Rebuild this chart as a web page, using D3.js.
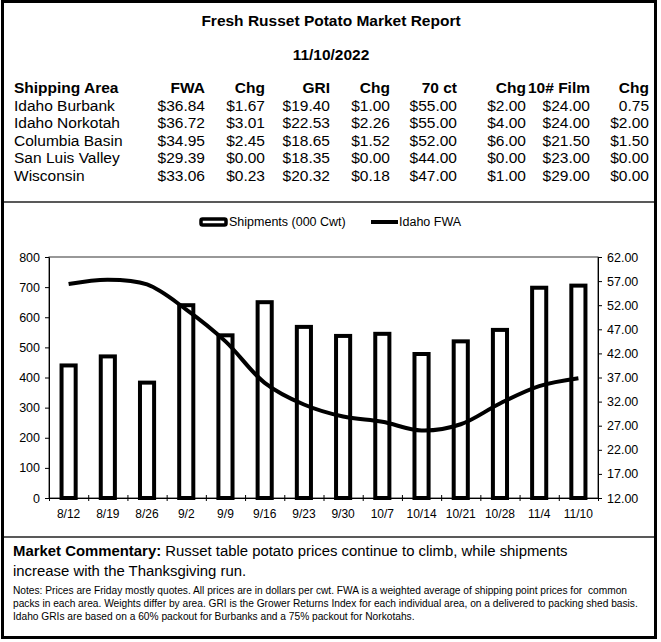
<!DOCTYPE html>
<html>
<head>
<meta charset="utf-8">
<script src="https://cdn.jsdelivr.net/npm/d3@7"></script>
<style>
  html, body { margin: 0; padding: 0; background: #fff; }
  svg text { font-family: "Liberation Sans", Arial, sans-serif; fill: #000; }
</style>
</head>
<body>
<svg id="chart" width="661" height="642"></svg>
<script>
// ---------- data ----------
const reportTitle = "Fresh Russet Potato Market Report";
const reportDate = "11/10/2022";
const tableHeaders = ["Shipping Area", "FWA", "Chg", "GRI", "Chg", "70 ct", "Chg", "10# Film", "Chg"];
const shippingAreas = ["Idaho Burbank", "Idaho Norkotah", "Columbia Basin", "San Luis Valley", "Wisconsin"];
const colFWA = ["$36.84", "$36.72", "$34.95", "$29.39", "$33.06"];
const colFWAChg = ["$1.67", "$3.01", "$2.45", "$0.00", "$0.23"];
const colGRI = ["$19.40", "$22.53", "$18.65", "$18.35", "$20.32"];
const colGRIChg = ["$1.00", "$2.26", "$1.52", "$0.00", "$0.18"];
const col70ct = ["$55.00", "$55.00", "$52.00", "$44.00", "$47.00"];
const col70ctChg = ["$2.00", "$4.00", "$6.00", "$0.00", "$1.00"];
const colFilm = ["$24.00", "$24.00", "$21.50", "$23.00", "$29.00"];
const colFilmChg = ["0.75", "$2.00", "$1.50", "$0.00", "$0.00"];

const weeks = ["8/12", "8/19", "8/26", "9/2", "9/9", "9/16", "9/23", "9/30", "10/7", "10/14", "10/21", "10/28", "11/4", "11/10"];
const shipments = [440, 470, 383, 640, 540, 650, 568, 538, 545, 478, 520, 558, 698, 705];
const idahoFWA = [56.4, 57.3, 56.3, 51.1, 44.5, 35.9, 31.4, 28.9, 27.8, 26.0, 27.3, 31.6, 35.2, 36.84];
const leftTicks = [0, 100, 200, 300, 400, 500, 600, 700, 800];
const rightTicks = [12, 17, 22, 27, 32, 37, 42, 47, 52, 57, 62];
const legendLabels = ["Shipments (000 Cwt)", "Idaho FWA"];

const commentaryBold = "Market Commentary:";
const commentaryLines = [" Russet table potato prices continue to climb, while shipments", "increase with the Thanksgiving run."];
const notesLines = [
  "Notes: Prices are Friday mostly quotes. All prices are in dollars per cwt. FWA is a weighted average of shipping point prices for  common",
  "packs in each area. Weights differ by area. GRI is the Grower Returns Index for each individual area, on a delivered to packing shed basis.",
  "Idaho GRIs are based on a 60% packout for Burbanks and a 75% packout for Norkotahs."
];

// ---------- drawing ----------
const svg = d3.select("#chart");

svg.append("rect").attr("x", 0).attr("y", 0).attr("width", 661).attr("height", 642).attr("fill", "#fff");

// ---- table ----
const tableG = svg.append("g");
tableG.append("text").attr("x", 331).attr("y", 21).attr("dy", "0.35em")
  .attr("text-anchor", "middle").attr("font-size", 15.5).attr("font-weight", "bold").text(reportTitle);
tableG.append("text").attr("x", 331).attr("y", 55).attr("dy", "0.35em")
  .attr("text-anchor", "middle").attr("font-size", 15.5).attr("font-weight", "bold").text(reportDate);

const colRight = [null, 205, 265, 330, 390, 457, 526, 590, 649];
const columns = [shippingAreas, colFWA, colFWAChg, colGRI, colGRIChg, col70ct, col70ctChg, colFilm, colFilmChg];
const headerY = 87.5;
const rowY = [105.5, 123, 140.5, 158, 176];
const tFont = 15.5;

tableHeaders.forEach((h, i) => {
  tableG.append("text")
    .attr("x", i === 0 ? 14 : colRight[i])
    .attr("y", headerY).attr("dy", "0.35em")
    .attr("text-anchor", i === 0 ? "start" : "end")
    .attr("font-size", tFont).attr("font-weight", "bold").text(h);
});
columns.forEach((col, i) => {
  col.forEach((v, r) => {
    tableG.append("text")
      .attr("x", i === 0 ? 14 : colRight[i])
      .attr("y", rowY[r]).attr("dy", "0.35em")
      .attr("text-anchor", i === 0 ? "start" : "end")
      .attr("font-size", tFont).text(v);
  });
});

// ---- chart ----
const plot = { left: 49, right: 598, top: 257, bottom: 498 };
const nCat = weeks.length;
const pad = 0.64;
const x = d3.scaleBand().domain(weeks).range([plot.left, plot.right]).paddingInner(pad).paddingOuter(pad / 2);
const xb = d3.scaleLinear().domain([0, nCat]).range([plot.left, plot.right]);
const yL = d3.scaleLinear().domain([0, 800]).range([plot.bottom, plot.top]);
const yR = d3.scaleLinear().domain([12, 62]).range([plot.bottom, plot.top]);

const chartG = svg.append("g");

chartG.append("rect")
  .attr("x", plot.left).attr("y", plot.top)
  .attr("width", plot.right - plot.left).attr("height", plot.bottom - plot.top)
  .attr("fill", "none").attr("stroke", "#333").attr("stroke-width", 1);

const axL = chartG.append("g").attr("transform", `translate(${plot.left},0)`)
  .call(d3.axisLeft(yL).tickValues(leftTicks).tickSize(4).tickSizeOuter(0).tickPadding(5).tickFormat(d3.format("d")));
axL.select(".domain").attr("stroke", "#000");
axL.selectAll("line").attr("stroke", "#000");
axL.selectAll("text").attr("font-size", 12.5).attr("font-family", "Liberation Sans, Arial, sans-serif").attr("fill", "#000");

const axR = chartG.append("g").attr("transform", `translate(${plot.right},0)`)
  .call(d3.axisRight(yR).tickValues(rightTicks).tickSize(4).tickSizeOuter(0).tickPadding(5).tickFormat(d3.format(".2f")));
axR.select(".domain").attr("stroke", "#000");
axR.selectAll("line").attr("stroke", "#000");
axR.selectAll("text").attr("font-size", 12.5).attr("font-family", "Liberation Sans, Arial, sans-serif").attr("fill", "#000");

const axB = chartG.append("g").attr("transform", `translate(0,${plot.bottom})`)
  .call(d3.axisBottom(xb).tickValues(d3.range(nCat + 1)).tickSize(4).tickSizeOuter(0).tickFormat(""));
axB.select(".domain").attr("stroke", "#000");
axB.selectAll(".tick line").attr("stroke", "#000").attr("y1", -3).attr("y2", 3);

const axBL = chartG.append("g").attr("transform", `translate(0,${plot.bottom})`)
  .call(d3.axisBottom(x).tickSize(0).tickPadding(11));
axBL.select(".domain").remove();
axBL.selectAll("text").attr("font-size", 12).attr("font-family", "Liberation Sans, Arial, sans-serif").attr("fill", "#000");

chartG.append("g").selectAll("rect").data(weeks).join("rect")
  .attr("x", d => x(d))
  .attr("y", (d, i) => yL(shipments[i]))
  .attr("width", x.bandwidth())
  .attr("height", (d, i) => yL(0) - yL(shipments[i]))
  .attr("fill", "#fff").attr("stroke", "#000").attr("stroke-width", 4);

const line = d3.line()
  .x((d, i) => x(weeks[i]) + x.bandwidth() / 2)
  .y(d => yR(d))
  .curve(d3.curveCatmullRom.alpha(0.5));
chartG.append("path").datum(idahoFWA)
  .attr("d", line).attr("fill", "none").attr("stroke", "#000").attr("stroke-width", 4)
  .attr("stroke-linejoin", "round");

// legend
const legG = svg.append("g");
legG.append("rect").attr("x", 201).attr("y", 219).attr("width", 25).attr("height", 6).attr("rx", 1.5)
  .attr("fill", "#fff").attr("stroke", "#000").attr("stroke-width", 3.5);
legG.append("text").attr("x", 229).attr("y", 222).attr("dy", "0.35em").attr("font-size", 12.5).text(legendLabels[0]);
legG.append("line").attr("x1", 371).attr("x2", 398).attr("y1", 222).attr("y2", 222)
  .attr("stroke", "#000").attr("stroke-width", 4);
legG.append("text").attr("x", 399).attr("y", 222).attr("dy", "0.35em").attr("font-size", 12.5).text(legendLabels[1]);

// ---- commentary ----
const comG = svg.append("g");
const c1 = comG.append("text").attr("x", 13).attr("y", 551).attr("dy", "0.35em").attr("font-size", 14.9);
c1.append("tspan").attr("font-weight", "bold").text(commentaryBold);
c1.append("tspan").text(commentaryLines[0]);
comG.append("text").attr("x", 13).attr("y", 570.5).attr("dy", "0.35em").attr("font-size", 14.9).text(commentaryLines[1]);
notesLines.forEach((t, i) => {
  comG.append("text").attr("x", 13).attr("y", 590 + i * 13.3).attr("dy", "0.35em").attr("font-size", 10.2)
    .attr("xml:space", "preserve").style("white-space", "pre").text(t);
});

// ---- section separators and outer frame ----
svg.append("line").attr("x1", 3).attr("x2", 656).attr("y1", 202).attr("y2", 202).attr("stroke", "#222").attr("stroke-width", 1.5);
svg.append("line").attr("x1", 3).attr("x2", 656).attr("y1", 537).attr("y2", 537).attr("stroke", "#222").attr("stroke-width", 1.5);
svg.append("rect").attr("x", 2.5).attr("y", 1.5).attr("width", 653).attr("height", 636)
  .attr("fill", "none").attr("stroke", "#000").attr("stroke-width", 3);
</script>
</body>
</html>
